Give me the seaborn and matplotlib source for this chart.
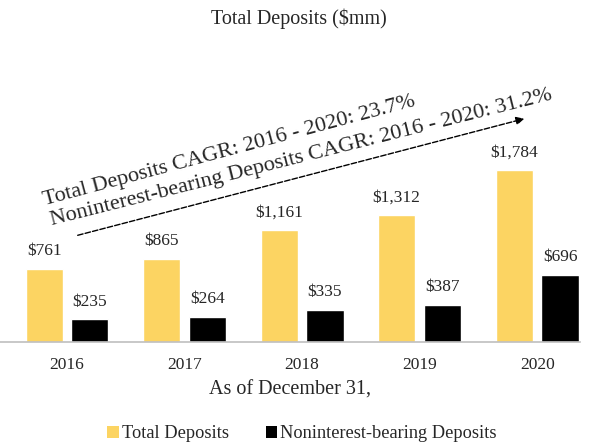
import matplotlib
matplotlib.use("Agg")
import matplotlib.pyplot as plt
import seaborn as sns
import pandas as pd
from matplotlib.patches import Patch

years = ["2016", "2017", "2018", "2019", "2020"]
total_deposits = [761, 865, 1161, 1312, 1784]
nonint_deposits = [235, 264, 335, 387, 696]
series_names = ["Total Deposits", "Noninterest-bearing Deposits"]
colors = ["#FCD462", "#000000"]
title = "Total Deposits ($mm)"
xlabel = "As of December 31,"
cagr_lines = ["Total Deposits CAGR: 2016 - 2020: 23.7%",
              "Noninterest-bearing Deposits CAGR: 2016 - 2020: 31.2%"]

df = pd.DataFrame({
    "year": years * 2,
    "value": total_deposits + nonint_deposits,
    "series": [series_names[0]] * len(years) + [series_names[1]] * len(years),
})

sns.set_style("white")
plt.rcParams["font.family"] = ["Liberation Serif", "DejaVu Serif"]

fig = plt.figure(figsize=(5.92, 4.45), dpi=100)
ax = fig.add_axes([0.0, 0.2315, 0.98, 0.4335])
sns.barplot(data=df, x="year", y="value", hue="series", palette=colors,
            width=0.78, gap=0.19, ax=ax, legend=False, saturation=1)

ax.set_xlim(-0.57, 4.366)
ax.set_ylim(0, 2000)
for s in ["top", "right", "left"]:
    ax.spines[s].set_visible(False)
ax.spines["bottom"].set_color("#BFBFBF")
ax.spines["bottom"].set_linewidth(1.2)
ax.set_yticks([])
ax.set_ylabel("")
ax.set_xlabel(xlabel, fontsize=14.5, labelpad=5)
ax.tick_params(axis="x", length=0, labelsize=12.5, pad=11)

for cont in ax.containers:
    ax.bar_label(cont, labels=[f"${v:,.0f}" for v in cont.datavalues],
                 fontsize=12.5, padding=7)

fig.text(0.505, 0.958, title, ha="center", va="center", fontsize=14.5)

# CAGR text and arrow
ax_f = fig.transFigure
fig.text(45 / 592, 1 - 205 / 445, cagr_lines[0], rotation=15.0, fontsize=16,
         ha="left", va="baseline", rotation_mode="anchor")
fig.text(52 / 592, 1 - 225 / 445, cagr_lines[1], rotation=14.1, fontsize=16,
         ha="left", va="baseline", rotation_mode="anchor")
fig.patches.append(matplotlib.patches.FancyArrowPatch(
    (75 / 592, 1 - 236 / 445), (527 / 592, 1 - 118 / 445),
    transform=ax_f, arrowstyle="-|>", mutation_scale=12,
    linestyle=(0, (4, 1.5)), linewidth=1.0, color="black"))

handles = [Patch(facecolor=c, edgecolor="none") for c in colors]
fig.legend(handles, series_names, loc="center", bbox_to_anchor=(0.51, 0.025),
           ncol=2, frameon=False, fontsize=13.2, handlelength=0.65,
           handleheight=0.65, handletextpad=0.15, columnspacing=2.0,
           borderpad=0.2)

fig.savefig("out.png", dpi=100)
